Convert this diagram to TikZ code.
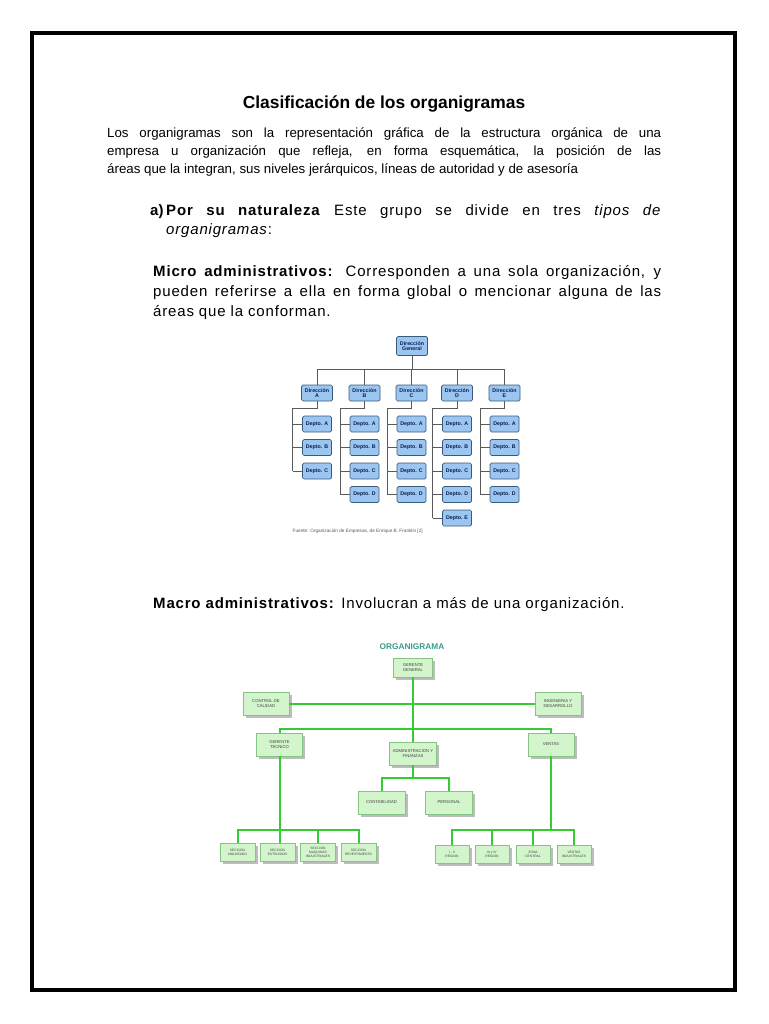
\documentclass[tikz,border=0pt]{standalone}
\usepackage{fontspec}
\setmainfont{Liberation Sans}
\newfontfamily\spc[LetterSpace=5.5]{Liberation Sans}
\usetikzlibrary{shadows}
\definecolor{blfill}{HTML}{9CC6F2}
\definecolor{blbord}{HTML}{3A5A7A}
\definecolor{bltext}{HTML}{0A1E50}
\definecolor{lngray}{HTML}{5A5A5A}
\definecolor{gfill}{HTML}{D3F5CC}
\definecolor{gbord}{HTML}{86C486}
\definecolor{gline}{HTML}{33CC33}
\definecolor{gtext}{HTML}{404040}
\definecolor{gshad}{HTML}{BDBDBD}
\definecolor{orgteal}{HTML}{3A9C8C}
\begin{document}
\begin{tikzpicture}[x=1pt,y=-1pt,
  txt/.style={inner sep=0pt, anchor=base west, font=\fontsize{15}{17}\selectfont},
  ptxt/.style={inner sep=0pt, anchor=base west, font=\fontsize{13.3}{16}\selectfont},
  dirbox/.style={draw=blbord, fill=blfill, rounded corners=1.5pt, line width=0.7pt, minimum width=31pt, minimum height=16pt, inner sep=0pt, align=center, text=bltext, font=\bfseries\fontsize{5.3}{5.8}\selectfont},
  depbox/.style={dirbox, minimum width=29pt},
  ln/.style={draw=lngray, line width=0.6pt},
  gbox/.style={draw=gbord, fill=gfill, line width=0.5pt, inner sep=0pt, align=center, text=gtext, font=\fontsize{4.2}{5}\selectfont, minimum width=46pt, minimum height=23pt, drop shadow={shadow xshift=2.5pt, shadow yshift=-2.5pt, fill=gshad, opacity=1}},
  sbox/.style={gbox, minimum width=35pt, minimum height=18pt, font=\fontsize{3.3}{3.9}\selectfont},
  gln/.style={draw=gline, line width=2pt}
]
\useasboundingbox (0,0) rectangle (768,1024);
\fill[white] (0,0) rectangle (768,1024);
\draw[line width=4pt] (32,33) rectangle (735,990);

% ---- text ----
\node[inner sep=0pt, anchor=base, font=\bfseries\fontsize{17.4}{20}\selectfont] (title) at (384,109) {Clasificación de los organigramas};
\node[ptxt] (p1) at (107,138) {\makebox[554pt][s]{Los organigramas son la representación gráfica de la estructura orgánica de una}};
\node[ptxt] (p2) at (107,156) {\makebox[554pt][s]{empresa u organización que refleja, en forma esquemática, la posición de las}};
\node[ptxt] (p3) at (107,174) {áreas que la integran, sus niveles jerárquicos, líneas de autoridad y de asesoría};
\node[txt] (alab) at (150,216) {\bfseries a)};
\node[txt] (a1) at (166,216) {\spc\makebox[495pt][s]{\textbf{Por su naturaleza} Este grupo se divide en tres \textit{tipos de}}};
\node[txt] (a2) at (166,235) {\spc\textit{organigramas}:};
\node[txt] (m1) at (153,276) {\spc\makebox[508pt][s]{\textbf{Micro administrativos:} Corresponden a una sola organización, y}};
\node[txt] (m2) at (153,296) {\spc\makebox[508pt][s]{pueden referirse a ella en forma global o mencionar alguna de las}};
\node[txt] (m3) at (153,316) {\spc áreas que la conforman.};
\node[txt] (mac) at (153,608) {\spc\textbf{Macro administrativos:} Involucran a más de una organización.};

% ---- chart 1 ----
\node[dirbox, minimum height=19pt] (dg) at (412,346) {Dirección\\General};
\foreach \c/\x/\n in {A/317/3, B/364.5/4, C/411.5/4, D/457/5, E/504.5/4} {
  \node[dirbox] (d\c) at (\x,393) {Dirección\\\c};
  \foreach \k/\lab in {1/A,2/B,3/C,4/D,5/E} {
    \ifnum\k>\n\else
      \node[depbox] (p\c\k) at (\x,{424+(\k-1)*23.5}) {Depto. \lab};
    \fi
  }
  \draw[ln] (dg.south) -- ++(0,13.5) -| (d\c.north);
  \draw[ln] (d\c.south) -- ++(0,7) -| ([xshift=-9.5pt]p\c\n.west);
  \foreach \k in {1,...,\n} {
    \draw[ln] ([xshift=-9.5pt]p\c\k.west) -- (p\c\k.west);
  }
}
\node[anchor=west, inner sep=0pt, font=\fontsize{4.7}{5}\selectfont, text=black!65] (cap) at (292.5,531.5) {Fuente: Organización de Empresas, de Enrique B. Franklin [2]};

% ---- chart 2 ----
\node[inner sep=0pt, font=\bfseries\fontsize{8.3}{9}\selectfont, text=orgteal] (otit) at (412,646.5) {ORGANIGRAMA};
\node[gbox, minimum width=39pt, minimum height=19pt] (gg) at (413,667.5) {GERENTE\\GENERAL};
\node[gbox] (cc) at (266,703.5) {CONTROL DE\\CALIDAD};
\node[gbox] (ing) at (558,703.5) {INGENIERIA Y\\DESARROLLO};
\node[gbox] (gt) at (279.5,744.5) {GERENTE\\TECNICO};
\node[gbox, minimum width=47pt] (adm) at (413,753.5) {ADMINISTRACION Y\\FINANZAS};
\node[gbox] (ven) at (551,744.5) {VENTAS};
\node[gbox, minimum width=47pt] (cont) at (381.5,802.5) {CONTABILIDAD};
\node[gbox, minimum width=47pt] (pers) at (449,802.5) {PERSONAL};
\node[sbox] (sM) at (237.5,852.5) {SECCION\\MOLDEADO};
\node[sbox] (sE) at (277.5,852.5) {SECCION\\EXTRUSION};
\node[sbox] (sQ) at (318,852.5) {SECCION\\MAQUINAS\\INDUSTRIALES};
\node[sbox] (sR) at (358.5,852.5) {SECCION\\REVESTIMIENTO};
\node[sbox, minimum width=34pt] (r1) at (452,854) {I - II\\REGION};
\node[sbox, minimum width=34pt] (r2) at (492,854) {III y IV\\REGION};
\node[sbox, minimum width=34pt] (r3) at (533,854) {ZONA\\CENTRAL};
\node[sbox, minimum width=34pt] (r4) at (574,854) {VENTAS\\INDUSTRIALES};

\draw[gln] (gg.south) -- (gg.south |- adm.north);
\draw[gln] (cc.east) -- (ing.west);
\draw[gln] (gt.north) -- ++(0,-4) -| (ven.north);
\draw[gln] (adm.south) -- ++(0,13) -| (cont.north);
\draw[gln] (adm.south) -- ++(0,13) -| (pers.north);
\draw[gln] (gt.south) -- (gt.south |- sE.north);
\draw[gln] (sM.north) -- ++(0,-13) -| (sR.north);
\draw[gln] (sQ.north) -- ++(0,-13);
\draw[gln] (r1.north) -- ++(0,-15) -| (r4.north);
\draw[gln] (r2.north) -- ++(0,-15);
\draw[gln] (r3.north) -- ++(0,-15);
\path (r1.north) ++(0,-15) coordinate (vb);
\draw[gln] (ven.south) -- (ven.south |- vb);
\end{tikzpicture}
\end{document}
